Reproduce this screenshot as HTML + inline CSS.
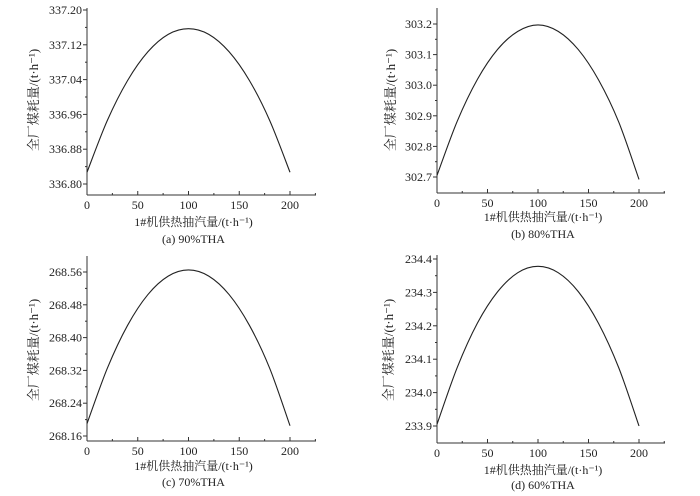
<!DOCTYPE html>
<html><head><meta charset="utf-8"><style>
html,body{margin:0;padding:0;background:#fff}
svg{display:block}
text{font-family:"Liberation Serif","Noto Serif CJK SC",serif;fill:#222}
</style></head><body>
<svg id="chart" width="700" height="496" viewBox="0 0 700 496"></svg>
<script>
const xValues=[0,20,40,60,80,100,120,140,160,180,200];
const xTicks=[0,50,100,150,200];
const seriesA=[336.827,336.946,337.038,337.104,337.144,337.157,337.144,337.104,337.038,336.946,336.827];
const seriesB=[302.705,302.882,303.019,303.117,303.176,303.197,303.176,303.116,303.017,302.879,302.692];
const seriesC=[268.19,268.325,268.43,268.505,268.55,268.565,268.55,268.505,268.43,268.325,268.185];
const seriesD=[233.905,234.075,234.208,234.302,234.359,234.378,234.359,234.302,234.207,234.074,233.9];
const ticksA=[336.80,336.88,336.96,337.04,337.12,337.20];
const ticksB=[302.7,302.8,302.9,303.0,303.1,303.2];
const ticksC=[268.16,268.24,268.32,268.40,268.48,268.56];
const ticksD=[233.9,234.0,234.1,234.2,234.3,234.4];
const captions=["(a) 90%THA","(b) 80%THA","(c) 70%THA","(d) 60%THA"];
const decimals=[2,1,2,1];

const panels=[
 {id:'a',series:seriesA,ticks:ticksA,x0:87,x200:290,xEnd:316,yTop:8,yBot:195,tTop:10,tBot:184,yt:100,ytx:38,xtY:226,capY:243},
 {id:'b',series:seriesB,ticks:ticksB,x0:437,x200:639,xEnd:665,yTop:8,yBot:193,tTop:24,tBot:177,yt:100,ytx:395,xtY:221,capY:238},
 {id:'c',series:seriesC,ticks:ticksC,x0:87,x200:290,xEnd:316,yTop:256,yBot:441,tTop:272,tBot:436,yt:350,ytx:38,xtY:470,capY:486},
 {id:'d',series:seriesD,ticks:ticksD,x0:437,x200:639,xEnd:665,yTop:255,yBot:443,tTop:259,tBot:426,yt:350,ytx:393,xtY:474,capY:489}
];
const NS='http://www.w3.org/2000/svg';
const svg=document.getElementById('chart');
function mk(tag,attrs,parent){const e=document.createElementNS(NS,tag);for(const k in attrs)e.setAttribute(k,attrs[k]);(parent||svg).appendChild(e);return e;}

panels.forEach((p,pi)=>{
 const g=mk('g',{});
 
 
 const t0=p.ticks[0],t1=p.ticks[p.ticks.length-1];
 const sx=v=>p.x0+(v-0)/(200-0)*(p.x200-p.x0);
 const sy=v=>p.tBot+(v-t0)/(t1-t0)*(p.tTop-p.tBot);
 const ya=mk('line',{x1:p.x0,y1:p.yTop,x2:p.x0,y2:p.yBot,stroke:'#333','stroke-width':1},g);
 
 
 const xa=mk('line',{x1:p.x0,y1:p.yBot,x2:p.xEnd,y2:p.yBot,stroke:'#333','stroke-width':1},g);
 
 
 const step=(t1-t0)/(p.ticks.length-1);
 p.ticks.forEach((v,i)=>{
  const y=sy(v);
  mk('line',{x1:p.x0-4,y1:y,x2:p.x0,y2:y,stroke:'#333'},g);
  if(i<p.ticks.length-1){const ym=sy(v+step/2);mk('line',{x1:p.x0-2,y1:ym,x2:p.x0,y2:ym,stroke:'#333'},g);}
  const tl=mk('text',{x:p.x0-5,y:y+4,'font-size':12,'text-anchor':'end'},g);
  tl.textContent=v.toFixed(decimals[pi]);
  
  
 });
 xTicks.forEach(v=>{
  const x=sx(v);
  mk('line',{x1:x,y1:p.yBot,x2:x,y2:p.yBot-4,stroke:'#333'},g);
  const xm=sx(v+25);
  if(xm<p.xEnd)mk('line',{x1:xm,y1:p.yBot,x2:xm,y2:p.yBot-2,stroke:'#333'},g);
  const tl=mk('text',{x:x,y:p.yBot+14,'font-size':12,'text-anchor':'middle'},g);
  tl.textContent=v;
  
  
 });
 const pts=xValues.map((xv,i)=>[sx(xv),sy(p.series[i])]);
 let d='M'+pts[0][0]+','+pts[0][1];
 for(let i=0;i<pts.length-1;i++){
  const a=pts[i-1]||pts[i],b=pts[i],c=pts[i+1],e=pts[i+2]||c;
  d+=' C'+(b[0]+(c[0]-a[0])/6)+','+(b[1]+(c[1]-a[1])/6)+' '+(c[0]-(e[0]-b[0])/6)+','+(c[1]-(e[1]-b[1])/6)+' '+c[0]+','+c[1];
 }
 const path=mk('path',{d:d,fill:'none',stroke:'#222','stroke-width':1.1},g);
 
 
 const yt=mk('text',{x:p.ytx,y:p.yt,'font-size':13,'text-anchor':'middle',transform:'rotate(-90 '+p.ytx+' '+p.yt+')'},g);
 yt.textContent='全厂煤耗量/(t·h⁻¹)';
 
 
 const cx=(p.x0+p.x200)/2+5;
 const xt=mk('text',{x:cx,y:p.xtY,'font-size':12,'text-anchor':'middle'},g);
 xt.textContent='1#机供热抽汽量/(t·h⁻¹)';
 
 
 const cp=mk('text',{x:cx,y:p.capY,'font-size':12,'text-anchor':'middle'},g);
 cp.textContent=captions[pi];
 
 
});
</script>
</body></html>
